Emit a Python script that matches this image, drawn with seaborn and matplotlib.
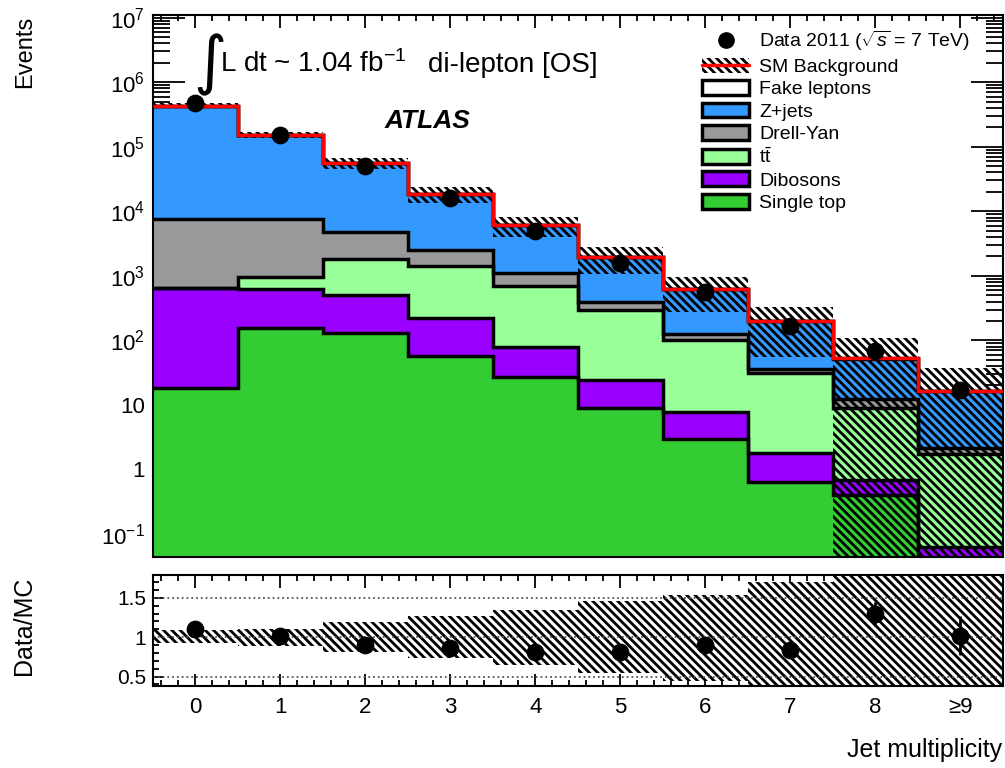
import numpy as np
import matplotlib
matplotlib.use("Agg")
import matplotlib.pyplot as plt
import seaborn as sns
from matplotlib.patches import Patch
from matplotlib.lines import Line2D
from matplotlib.ticker import FixedLocator, FixedFormatter, MultipleLocator, LogLocator, NullFormatter

# ---- data ----
jets = np.arange(10)
jet_labels = ["0", "1", "2", "3", "4", "5", "6", "7", "8", "\u22659"]

single_top = [18, 153, 128, 58, 26.7, 9.1, 3.0, 0.63, 0.395, 0.0]
dibosons = [632, 463, 372, 161, 51, 15, 4.65, 1.14, 0.28, 0.061]
ttbar = [8, 334, 1300, 1180, 609, 268, 92, 29, 8.4, 1.68]
drell_yan = [6850, 6650, 2920, 1080, 413, 97, 28, 4.7, 3.1, 0.42]
z_jets = [422000, 144000, 50700, 15900, 4950, 1548, 487, 161, 40.2, 14.5]
fake_leptons = [300, 150, 60, 20, 8, 2, 0.9, 0.3, 0.1, 0.05]

data_2011 = [477000, 153500, 50000, 15800, 4900, 1570, 554, 165, 68, 17]

# relative systematic band (up / down) on the SM background
band_up = [1.09, 1.10, 1.19, 1.27, 1.35, 1.46, 1.54, 1.70, 2.1, 2.2]
band_dn = [0.92, 0.89, 0.81, 0.73, 0.65, 0.55, 0.44, 0.28, 0.0, 0.0]

# stacking order, bottom -> top
layers = [
    ("Single top", single_top, "#33cc33"),
    ("Dibosons", dibosons, "#9900ff"),
    (r"$\mathrm{t\bar{t}}$", ttbar, "#99ff99"),
    ("Drell-Yan", drell_yan, "#999999"),
    ("Z+jets", z_jets, "#3399ff"),
    ("Fake leptons", fake_leptons, "white"),
]

# ---- style ----
sns.set_theme(style="ticks")
plt.rcParams["font.family"] = ["Liberation Sans", "DejaVu Sans"]
plt.rcParams["mathtext.fontset"] = "custom"
plt.rcParams["mathtext.rm"] = "Liberation Sans"
plt.rcParams["mathtext.it"] = "Liberation Sans:italic"
plt.rcParams["hatch.linewidth"] = 2.0
plt.rcParams["axes.linewidth"] = 1.5
for key in ["text.color", "axes.labelcolor", "axes.edgecolor", "xtick.color", "ytick.color"]:
    plt.rcParams[key] = "black"

HATCH = "\\\\\\\\"
edges = np.arange(-0.5, 10.5, 1)
floor = 1e-3

fig = plt.figure(figsize=(10.05, 7.68), dpi=100)
ax = fig.add_axes([0.1522, 0.2747, 0.8458, 0.7058])
rax = fig.add_axes([0.1522, 0.1068, 0.8458, 0.1445])

# ---- main panel: stacked backgrounds ----
bottom = np.full(10, floor)
for name, vals, col in layers:
    top = bottom + np.array(vals)
    ax.stairs(top, edges, baseline=bottom, fill=True, color=col, zorder=1)
    ax.stairs(top, edges, baseline=None, color="black", lw=2.5, zorder=2)
    bottom = top
total = bottom - floor

ax.stairs(total * np.array(band_up), edges,
          baseline=np.maximum(total * np.array(band_dn), floor),
          fill=True, facecolor="none", edgecolor="black", hatch=HATCH, lw=0, zorder=3)
ax.stairs(total, edges, baseline=None, color="red", lw=2.5, zorder=4)

data_arr = np.array(data_2011, dtype=float)
ax.errorbar(jets, data_arr, yerr=np.sqrt(data_arr), fmt="none", ecolor="black", lw=2, zorder=5)
sns.scatterplot(x=jets, y=data_arr, color="black", s=140, edgecolor="black", ax=ax, zorder=6, legend=False)

ax.set_yscale("log")
ax.set_xlim(-0.5, 9.5)
ax.set_ylim(0.044, 1.1e7)
ax.set_xlabel("")
ax.set_ylabel("")
ax.yaxis.set_major_locator(FixedLocator([0.1, 1, 10, 1e2, 1e3, 1e4, 1e5, 1e6, 1e7]))
ax.yaxis.set_major_formatter(FixedFormatter([r"$10^{-1}$", "1", "10", r"$10^{2}$", r"$10^{3}$",
                                             r"$10^{4}$", r"$10^{5}$", r"$10^{6}$", r"$10^{7}$"]))
ax.yaxis.set_minor_locator(LogLocator(base=10, subs=np.arange(2, 10), numticks=20))
ax.yaxis.set_minor_formatter(NullFormatter())
ax.xaxis.set_major_locator(MultipleLocator(1))
ax.xaxis.set_minor_locator(MultipleLocator(0.2))
ax.tick_params(which="both", direction="in", top=True, right=True, width=1.3, labelbottom=False)
ax.tick_params(axis="y", which="major", length=23, labelsize=16, pad=6)
ax.tick_params(axis="y", which="minor", length=12)
ax.tick_params(axis="x", which="major", length=9)
ax.tick_params(axis="x", which="minor", length=4)

# ---- legend ----
handles = [
    Line2D([], [], marker="o", color="black", ls="none", markersize=11),
    (Patch(facecolor="none", edgecolor="black", hatch=HATCH, lw=0), Line2D([], [], color="red", lw=2.5)),
]
labels = [r"Data 2011 ($\sqrt{s}$ = 7 TeV)", "SM Background"]
for name, vals, col in layers[::-1]:
    handles.append(Patch(facecolor=col, edgecolor="black", lw=2.5))
    labels.append(name)
fig.legend(handles, labels, loc="upper left", bbox_to_anchor=(0.699, 0.962), frameon=False,
           fontsize=14, handlelength=2.4, handleheight=0.8, handletextpad=0.5,
           labelspacing=0.22, borderpad=0, borderaxespad=0)

# ---- annotations ----
fig.text(0.192, 1 - 82 / 768, "\u222b", fontsize=46, family="DejaVu Sans", va="baseline")
fig.text(0.219, 1 - 72 / 768, r"L dt ~ 1.04 fb$^{-1}$", fontsize=20, va="baseline")
fig.text(0.426, 1 - 72 / 768, "di-lepton [OS]", fontsize=20, va="baseline")
fig.text(0.383, 1 - 128 / 768, "ATLAS", fontsize=19, weight="bold", style="italic", va="baseline")
fig.text(0.025, 0.98, "Events", rotation=90, ha="center", va="top", fontsize=17)

# ---- ratio panel ----
ratio = data_arr / total
ratio_err = np.sqrt(data_arr) / total
rax.stairs(band_up, edges, baseline=band_dn, fill=True, facecolor="white",
           edgecolor="black", hatch=HATCH, lw=0, zorder=1)
for yv in [0.5, 1.0, 1.5]:
    rax.axhline(yv, color="#555555", ls=":", lw=1.3, zorder=2)
rax.errorbar(jets, ratio, yerr=ratio_err, fmt="none", ecolor="black", lw=2, zorder=3)
sns.scatterplot(x=jets, y=ratio, color="black", s=140, edgecolor="black", ax=rax, zorder=4, legend=False)

rax.set_xlim(-0.5, 9.5)
rax.set_ylim(0.38, 1.79)
rax.set_xlabel("")
rax.set_ylabel("")
rax.xaxis.set_major_locator(FixedLocator(jets))
rax.xaxis.set_major_formatter(FixedFormatter(jet_labels))
rax.xaxis.set_minor_locator(MultipleLocator(0.2))
rax.yaxis.set_major_locator(FixedLocator([0.5, 1.0, 1.5]))
rax.yaxis.set_major_formatter(FixedFormatter(["0.5", "1", "1.5"]))
rax.yaxis.set_minor_locator(MultipleLocator(0.1))
rax.tick_params(which="both", direction="in", top=True, right=True, width=1.3)
rax.tick_params(axis="x", which="major", length=9, labelsize=16, pad=8)
rax.tick_params(axis="x", which="minor", length=4)
rax.tick_params(axis="y", which="major", length=8, labelsize=15, pad=5)
rax.tick_params(axis="y", which="minor", length=4)

fig.text(0.024, 0.185, "Data/MC", rotation=90, ha="center", va="center", fontsize=18)
fig.text(0.997, 1 - 757 / 768, "Jet multiplicity", ha="right", va="baseline", fontsize=18)

fig.savefig("out.png", dpi=100)
